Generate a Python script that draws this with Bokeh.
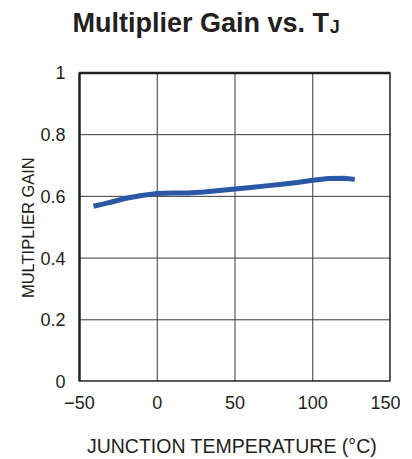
from bokeh.plotting import figure
from bokeh.models import Range1d, FixedTicker, Label, BoxAnnotation
from bokeh.embed import file_html
from bokeh.resources import INLINE

temps = [-41, -35, -30, -20, -10, 0, 10, 20, 30, 40, 50, 60, 70, 80, 90, 100, 110, 120, 127]
gain = [0.568, 0.575, 0.581, 0.594, 0.603, 0.609, 0.611, 0.611, 0.614, 0.619, 0.624, 0.629, 0.634, 0.639, 0.645, 0.652, 0.658, 0.659, 0.655]
x_ticks = [-50, 0, 50, 100, 150]
y_ticks = [0, 0.2, 0.4, 0.6, 0.8, 1]
title_main = "Multiplier Gain vs. T"
title_sub = "J"
x_label = "JUNCTION TEMPERATURE (°C)"
y_label = "MULTIPLIER GAIN"

TXT = "#231F20"
FONT = "Liberation Sans"
GRID = "#3A3A3A"

W, H = 400, 459
LEFT, RIGHT, BOTTOM = 73, 10, 75
PAD_LEFT = 6                     # frame extends this far left of the data box
data_w, data_h = 311, 311        # pixels for the data box
ppu_x = data_w / (x_ticks[-1] - x_ticks[0])
x_start = x_ticks[0] - PAD_LEFT / ppu_x
x_end = x_start + (W - LEFT - RIGHT) / ppu_x
y_top = (H - BOTTOM) / data_h

p = figure(width=W, height=H, output_backend="svg", toolbar_location=None,
           title_location=None,
           x_range=Range1d(x_start, x_end), y_range=Range1d(0, y_top))
p.min_border_left = LEFT
p.min_border_right = RIGHT
p.min_border_top = 0
p.min_border_bottom = BOTTOM
p.background_fill_color = "white"
p.border_fill_color = "white"
p.outline_line_color = None
p.xgrid.visible = False
p.ygrid.visible = False

p.xaxis.ticker = FixedTicker(ticks=x_ticks)
p.yaxis.ticker = FixedTicker(ticks=y_ticks)
p.xaxis.bounds = (x_ticks[0], x_ticks[-1])
p.yaxis.bounds = (y_ticks[0], y_ticks[-1])
p.yaxis.major_label_overrides = {0: "0", 0.2: "0.2", 0.4: "0.4", 0.6: "0.6", 0.8: "0.8", 1: "1"}
for ax in (p.xaxis[0], p.yaxis[0]):
    ax.axis_line_color = None
    ax.major_tick_line_color = None
    ax.minor_tick_line_color = None
    ax.major_label_text_font = FONT
    ax.major_label_text_font_size = "18px"
    ax.major_label_text_color = TXT
    ax.axis_label_text_font = FONT
    ax.axis_label_text_font_style = "normal"
    ax.axis_label_text_color = TXT
p.xaxis.axis_label_text_font_size = "19.5px"
p.yaxis.axis_label_text_font_size = "16.5px"
p.xaxis.major_label_standoff = 8
p.yaxis.major_label_standoff = 2
p.xaxis.axis_label = x_label
# trailing no-break spaces move the centred label down onto the data box
p.yaxis.axis_label = y_label + "\u00a0" * 16
p.xaxis.axis_label_standoff = 23
p.yaxis.axis_label_standoff = 0

# grid lines at the tick positions, bounded to the data box
n_x, n_y = len(x_ticks), len(y_ticks)
p.segment(x0=x_ticks, y0=[y_ticks[0]] * n_x, x1=x_ticks, y1=[y_ticks[-1]] * n_x,
          line_color=GRID, line_width=1)
p.segment(x0=[x_ticks[0]] * n_y, y0=y_ticks, x1=[x_ticks[-1]] * n_y, y1=y_ticks,
          line_color=GRID, line_width=1)

p.line(temps, gain, line_color="#2B58A6", line_width=5)

p.add_layout(BoxAnnotation(left=x_ticks[0], right=x_ticks[-1], bottom=y_ticks[0], top=y_ticks[-1],
                           fill_alpha=0, line_color=TXT, line_width=2.5, line_alpha=1))

p.add_layout(Label(x=-54.5, y=1.161, text=title_main, text_font=FONT,
                   text_font_size="27px", text_font_style="bold", text_color=TXT,
                   text_baseline="alphabetic", text_align="left"))
p.add_layout(Label(x=111.0, y=1.150, text=title_sub, text_font=FONT,
                   text_font_size="18px", text_font_style="bold", text_color=TXT,
                   text_baseline="alphabetic", text_align="left"))

open("out.html", "w").write(file_html(p, INLINE))
